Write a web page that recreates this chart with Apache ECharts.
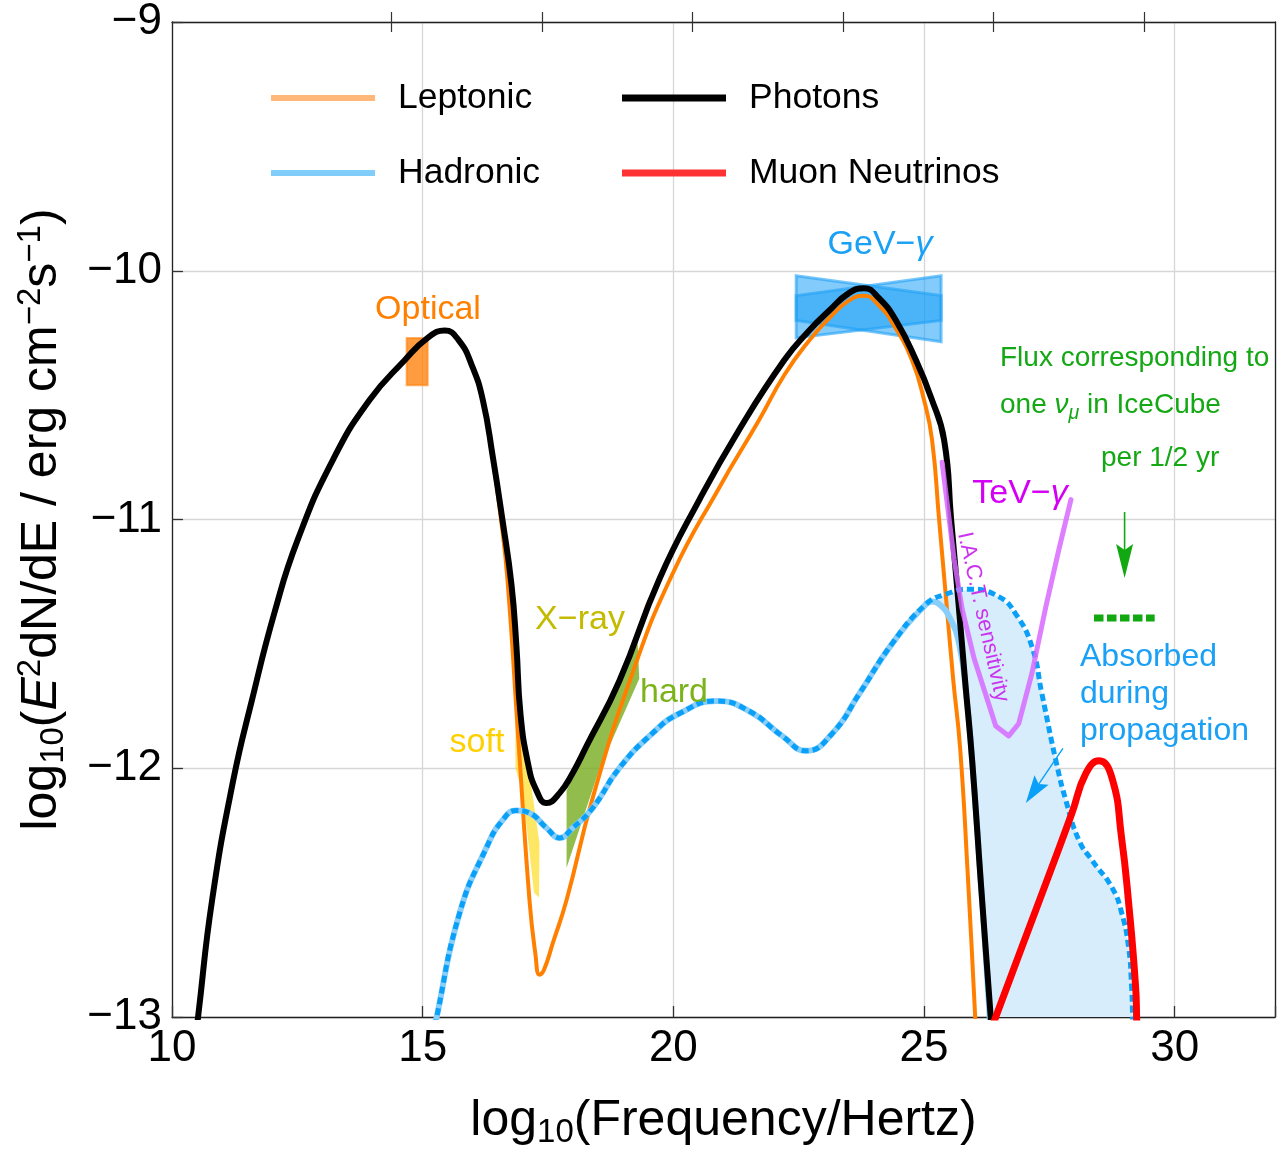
<!DOCTYPE html>
<html><head><meta charset="utf-8">
<script src="https://cdn.jsdelivr.net/npm/echarts@6/dist/echarts.min.js"></script>
<style>html,body{margin:0;padding:0;background:#fff}#c{width:1280px;height:1152px}</style>
</head><body><div id="c"></div>
<script>
// ---------------- data (log10 frequency [Hz], log10 E^2 dN/dE [erg cm^-2 s^-1]) ----------------
const xTicks = [10, 15, 20, 25, 30];
const yTicks = [-13, -12, -11, -10, -9];
const topTickValues = [14.383, 17.383, 20.383, 23.383, 26.383, 29.383];

const photons = [[10.46,-13.1],[10.52,-13.0],[10.8,-12.53],[11.22,-12.05],[11.59,-11.73],[12.05,-11.37],[12.51,-11.08],[13.21,-10.76],[13.94,-10.52],[14.64,-10.36],[15.1,-10.27],[15.44,-10.24],[15.72,-10.28],[15.98,-10.38],[16.2,-10.52],[16.4,-10.75],[16.59,-11.0],[16.77,-11.26],[16.87,-11.51],[16.95,-11.78],[17.1,-11.98],[17.27,-12.09],[17.47,-12.14],[17.73,-12.1],[17.99,-12.02],[18.27,-11.91],[18.92,-11.65],[19.72,-11.24],[20.52,-10.92],[21.31,-10.64],[22.21,-10.36],[22.71,-10.24],[23.11,-10.16],[23.5,-10.09],[23.8,-10.07],[24.1,-10.11],[24.44,-10.2],[24.84,-10.36],[25.14,-10.51],[25.4,-10.68],[25.54,-11.0],[25.68,-11.32],[25.82,-11.65],[25.96,-11.97],[26.14,-12.48],[26.33,-13.0],[26.37,-13.11]];

const leptonic = [[10.46,-13.1],[10.52,-13.0],[10.8,-12.53],[11.22,-12.05],[11.59,-11.73],[12.05,-11.37],[12.51,-11.08],[13.21,-10.76],[13.94,-10.52],[14.64,-10.36],[15.1,-10.27],[15.44,-10.24],[15.72,-10.28],[15.98,-10.38],[16.2,-10.52],[16.4,-10.76],[16.55,-10.98],[16.69,-11.24],[16.91,-11.89],[17.13,-12.53],[17.25,-12.75],[17.33,-12.83],[17.42,-12.81],[17.6,-12.7],[17.87,-12.53],[18.39,-12.12],[19.18,-11.62],[19.98,-11.22],[20.92,-10.87],[21.71,-10.6],[22.21,-10.42],[22.71,-10.28],[23.11,-10.19],[23.5,-10.12],[23.8,-10.1],[24.1,-10.14],[24.4,-10.22],[24.76,-10.36],[25.0,-10.52],[25.16,-10.68],[25.3,-11.0],[25.44,-11.32],[25.58,-11.64],[25.72,-11.92],[25.87,-12.42],[26.02,-13.0],[26.05,-13.12]];

const hadronicUnabsorbed = [[15.22,-13.08],[15.28,-13.0],[15.74,-12.58],[16.27,-12.32],[16.59,-12.21],[16.87,-12.17],[17.13,-12.18],[17.47,-12.24],[17.73,-12.28],[17.99,-12.24],[18.39,-12.16],[18.92,-12.0],[19.58,-11.86],[20.12,-11.78],[20.86,-11.73],[21.51,-11.77],[22.17,-11.87],[22.65,-11.93],[23.17,-11.86],[23.71,-11.7],[24.36,-11.5],[25.04,-11.34],[25.44,-11.3],[25.9,-11.28],[26.49,-11.31],[26.83,-11.38],[27.15,-11.51],[27.35,-11.7],[27.63,-11.97],[27.83,-12.13],[28.09,-12.29],[28.35,-12.37],[28.75,-12.48],[28.94,-12.58],[29.08,-12.72],[29.14,-12.88],[29.16,-13.0],[29.17,-13.1]];

const hadronicAbsorbed = [[15.22,-13.08],[15.28,-13.0],[15.74,-12.58],[16.27,-12.32],[16.59,-12.21],[16.87,-12.17],[17.13,-12.18],[17.47,-12.24],[17.73,-12.28],[17.99,-12.24],[18.39,-12.16],[18.92,-12.0],[19.58,-11.86],[20.12,-11.78],[20.86,-11.73],[21.51,-11.77],[22.17,-11.87],[22.65,-11.93],[23.17,-11.86],[23.71,-11.7],[24.36,-11.5],[25.04,-11.34],[25.16,-11.33],[25.3,-11.34],[25.5,-11.39],[25.7,-11.5],[25.84,-11.7],[25.96,-11.97],[26.14,-12.48],[26.31,-13.0],[26.33,-13.1]];

const muonNeutrinos = [[26.25,-13.1],[26.43,-13.0],[26.95,-12.72],[27.49,-12.43],[27.95,-12.18],[28.23,-12.02],[28.49,-11.97],[28.75,-12.04],[28.94,-12.28],[29.08,-12.54],[29.22,-12.88],[29.24,-13.0],[29.25,-13.1]];

const tevSensitivity = [[25.36,-10.77],[25.6,-11.16],[25.76,-11.36],[26.0,-11.56],[26.24,-11.71],[26.43,-11.83],[26.69,-11.87],[26.89,-11.82],[27.15,-11.62],[27.43,-11.35],[27.69,-11.12],[27.93,-10.92]];

const gevBandA = [[22.45,-10.02],[25.34,-10.10],[25.34,-10.20],[22.45,-10.27]];
const gevBandB = [[22.45,-10.10],[25.34,-10.02],[25.34,-10.285],[22.45,-10.20]];
const opticalBox = [[14.68,-10.27],[15.1,-10.27],[15.1,-10.46],[14.68,-10.46]];
const softXray = [[16.85,-11.73],[16.93,-11.73],[17.15,-12.05],[17.33,-12.3],[17.32,-12.52],[17.22,-12.5],[17.0,-12.1],[16.85,-12.0]];
const hardXray = [[17.87,-12.09],[18.53,-11.8],[19.28,-11.46],[19.32,-11.64],[18.53,-12.0],[17.87,-12.4]];
const fluxLimit = [[28.39,-11.396],[29.6,-11.396]];
const fluxArrow = [[29.0,-10.97],[29.0,-11.235]];
const absorbedArrow = [[27.77,-11.92],[27.03,-12.14]];

// ---------------- chart ----------------
const FONT = 'Liberation Sans, Arial, Helvetica, sans-serif';
const chart = echarts.init(document.getElementById('c'), null, {renderer: 'canvas'});

function polySeries(name, pts, style, z) {
  return {
    type: 'custom', name: name, coordinateSystem: 'cartesian2d', clip: true, z: z, silent: true,
    data: [pts[0]],
    renderItem: function (params, api) {
      return {type: 'polygon', shape: {points: pts.map(p => api.coord(p))}, style: style};
    }
  };
}
function arrowSeries(name, pts, color, lw, headLen, headW, z) {
  return {
    type: 'custom', name: name, coordinateSystem: 'cartesian2d', clip: false, z: z, silent: true,
    data: [pts[0]],
    renderItem: function (params, api) {
      const a = api.coord(pts[0]), b = api.coord(pts[1]);
      const dx = b[0] - a[0], dy = b[1] - a[1], L = Math.hypot(dx, dy);
      const ux = dx / L, uy = dy / L, px = -uy, py = ux;
      const bx = b[0] - ux * headLen, by = b[1] - uy * headLen;
      const nx = b[0] - ux * headLen * 0.82, ny = b[1] - uy * headLen * 0.82;
      return {type: 'group', children: [
        {type: 'line', shape: {x1: a[0], y1: a[1], x2: nx, y2: ny}, style: {stroke: color, lineWidth: lw}},
        {type: 'polygon', shape: {points: [[b[0], b[1]], [bx + px * headW / 2, by + py * headW / 2], [nx, ny], [bx - px * headW / 2, by - py * headW / 2]]}, style: {fill: color}}
      ]};
    }
  };
}
function lineSeries(name, data, color, width, z, extra) {
  return Object.assign({
    type: 'line', name: name, data: data, showSymbol: false, symbol: 'none', clip: true, z: z,
    smooth: 0.5, silent: true, animation: false,
    lineStyle: {color: color, width: width, cap: 'round', join: 'round'},
    itemStyle: {color: color}
  }, extra || {});
}

// absorbed region polygon: unabsorbed curve forward + absorbed curve backward (from divergence)
const fillPoly = hadronicUnabsorbed.filter(p => p[0] >= 25.04).concat(hadronicAbsorbed.filter(p => p[0] >= 25.04).slice().reverse());

function txt(text, x, y, size, color, align, extra) {
  return Object.assign({
    type: 'text', x: x, y: y, silent: true, z: 100,
    style: {text: text, fontSize: size, fontFamily: FONT, fill: color, align: align, verticalAlign: 'middle', textAlign: align, textVerticalAlign: 'middle'}
  }, extra || {});
}
function richTxt(text, x, y, size, color, align) {
  return {
    type: 'text', x: x, y: y, silent: true, z: 100,
    style: {text: text, fontSize: size, fontFamily: FONT, fill: color, align: align, verticalAlign: 'middle', textAlign: align, textVerticalAlign: 'middle',
      rich: {
        a: {fontSize: size, fontFamily: FONT, fill: color, color: color, lineHeight: size * 1.3},
        i: {fontSize: size, fontFamily: FONT, fontStyle: 'italic', fill: color, color: color, lineHeight: size * 1.3},
        s: {fontSize: size * 0.7, fontFamily: FONT, fontStyle: 'italic', fill: color, color: color, verticalAlign: 'bottom', lineHeight: size * 0.85}
      }}
  };
}

const legendText = {fontSize: 35.5, fontFamily: FONT, color: '#000', lineHeight: 40, padding: [0, 0, 0, 18]};

const option = {
  animation: false,
  backgroundColor: '#fff',
  textStyle: {fontFamily: FONT},
  grid: {left: 172, right: 5, top: 22, bottom: 135, containLabel: false, outerBoundsMode: 'none'},
  legend: [
    {data: [{name: 'Leptonic', itemStyle: {color: '#ffb87a'}}, {name: 'Hadronic', itemStyle: {color: '#80cdfa'}}],
     orient: 'vertical', left: 271, top: 78, icon: 'rect', itemWidth: 104, itemHeight: 6, itemGap: 35,
     selectedMode: false, textStyle: legendText, padding: 0},
    {data: [{name: 'Photons', itemStyle: {color: '#000'}}, {name: 'Muon Neutrinos', itemStyle: {color: '#ff3333'}}],
     orient: 'vertical', left: 622, top: 78, icon: 'rect', itemWidth: 104, itemHeight: 7, itemGap: 35,
     selectedMode: false, textStyle: legendText, padding: 0}
  ],
  xAxis: [
    {type: 'value', min: 10, max: 32, interval: 5, position: 'bottom',
     name: '{a|log}{s|10}{a|(Frequency/Hertz)}', nameLocation: 'middle', nameGap: 76,
     nameTextStyle: {rich: {
       a: {fontSize: 50, fontFamily: FONT, color: '#000', lineHeight: 56},
       s: {fontSize: 33, fontFamily: FONT, color: '#000', lineHeight: 34, verticalAlign: 'bottom'}}},
     axisLine: {show: true, onZero: false, lineStyle: {color: '#222', width: 1.3}},
     axisTick: {show: true, inside: true, length: 11, lineStyle: {color: '#333', width: 1.3}},
     axisLabel: {show: true, fontSize: 44, fontFamily: FONT, color: '#000', margin: 10,
       customValues: xTicks},
     splitLine: {show: true, lineStyle: {color: '#d6d6d6', width: 1.3}}},
    {type: 'value', min: 10, max: 32, position: 'top',
     axisLine: {show: true, onZero: false, lineStyle: {color: '#222', width: 1.3}},
     axisTick: {show: true, inside: true, length: 10, customValues: topTickValues, lineStyle: {color: '#333', width: 1.2}},
     axisLabel: {show: false}, splitLine: {show: false}},
    {type: 'value', min: 10, max: 32, position: 'top',
     axisLine: {show: false},
     axisTick: {show: true, inside: false, length: 10, customValues: topTickValues, lineStyle: {color: '#333', width: 1.2}},
     axisLabel: {show: false}, splitLine: {show: false}}
  ],
  yAxis: [
    {type: 'value', min: -13, max: -9, interval: 1, position: 'left',
     name: '{a|log}{s|10}{a|(}{i|E}{p|2}{a|dN/dE / erg cm}{p|−2}{a|s}{p|−1}{a|)}',
     nameLocation: 'middle', nameGap: 102, nameRotate: 90,
     nameTextStyle: {rich: {
       a: {fontSize: 50, fontFamily: FONT, color: '#000', lineHeight: 56},
       i: {fontSize: 50, fontFamily: FONT, fontStyle: 'italic', color: '#000', lineHeight: 56},
       s: {fontSize: 33, fontFamily: FONT, color: '#000', lineHeight: 34, verticalAlign: 'bottom'},
       p: {fontSize: 33, fontFamily: FONT, color: '#000', lineHeight: 34, verticalAlign: 'top'}}},
     axisLine: {show: true, onZero: false, lineStyle: {color: '#222', width: 1.3}},
     axisTick: {show: true, inside: true, length: 11, lineStyle: {color: '#333', width: 1.3}},
     axisLabel: {show: true, fontSize: 44, fontFamily: FONT, color: '#000', margin: 10,
       customValues: yTicks,
       formatter: v => (v < 0 ? '\u2212' : '') + Math.abs(v)},
     splitLine: {show: true, lineStyle: {color: '#d6d6d6', width: 1.3}}},
    {type: 'value', min: -13, max: -9, position: 'right',
     axisLine: {show: true, onZero: false, lineStyle: {color: '#222', width: 1.3}},
     axisTick: {show: false}, axisLabel: {show: false}, splitLine: {show: false}}
  ],
  series: [
    polySeries('absorbed region', fillPoly, {fill: '#d7edfc'}, 1),
    polySeries('GeV band A', gevBandA, {fill: 'rgba(30,160,245,0.55)', stroke: 'rgba(30,160,245,0.6)', lineWidth: 3}, 2),
    polySeries('GeV band B', gevBandB, {fill: 'rgba(30,160,245,0.55)', stroke: 'rgba(30,160,245,0.6)', lineWidth: 3}, 2),
    polySeries('Optical', opticalBox, {fill: 'rgba(255,128,10,0.78)', stroke: 'rgba(255,128,10,0.6)', lineWidth: 2}, 2),
    polySeries('soft X-ray', softXray, {fill: 'rgba(255,215,0,0.6)'}, 2),
    polySeries('hard X-ray', hardXray, {fill: 'rgba(115,170,25,0.78)'}, 2),
    lineSeries('Leptonic', leptonic, '#ff8000', 4, 3),
    lineSeries('Hadronic', hadronicAbsorbed, '#87cefa', 6, 4),
    lineSeries('Photons', photons, '#000000', 6, 5),
    lineSeries('Hadronic (unabsorbed)', hadronicUnabsorbed, '#0aa0f7', 5, 6,
      {lineStyle: {color: '#0aa0f7', width: 5, type: [7, 4], cap: 'butt'}}),
    lineSeries('TeV sensitivity', tevSensitivity, 'rgba(215,105,255,0.85)', 5, 6, {smooth: false}),
    lineSeries('Muon Neutrinos', muonNeutrinos, '#ff0000', 7, 7),
    lineSeries('flux limit', fluxLimit, '#11a811', 7, 7,
      {smooth: false, lineStyle: {color: '#11a811', width: 7, type: [9.5, 3.5], cap: 'butt'}}),
    arrowSeries('flux arrow', fluxArrow, '#11a811', 1.6, 34, 17, 8),
    arrowSeries('absorbed arrow', absorbedArrow, '#0aa0f7', 1.4, 28, 17, 8)
  ],
  graphic: [
    txt('Optical', 428, 310, 34, '#ff7f00', 'center'),
    richTxt('{a|GeV\u2212}{i|\u03b3}', 880, 245, 34, '#1aa0f5', 'center'),
    txt('X\u2212ray', 580, 620, 34, '#c4bb00', 'center'),
    txt('soft', 477, 743, 34, '#ffd000', 'center'),
    txt('hard', 674, 693, 34, '#7cb31b', 'center'),
    richTxt('{a|TeV\u2212}{i|\u03b3}', 1020, 494, 34, '#d400f5', 'center'),
    txt('I.A.C.T. sensitivity', 983, 617, 22, '#cc33ee', 'center', {rotation: -1.349}),
    txt('Flux corresponding to', 1000, 358, 28, '#14a814', 'left'),
    richTxt('{a|one }{i|\u03bd}{s|\u03bc}{a| in IceCube}', 1000, 405, 28, '#14a814', 'left'),
    txt('per 1/2 yr', 1101, 458, 28, '#14a814', 'left'),
    {type: 'text', x: 1080, y: 694, silent: true, z: 100,
     style: {text: 'Absorbed\nduring\npropagation', fontSize: 32, fontFamily: FONT, fill: '#1aa0f5', lineHeight: 37,
       align: 'left', verticalAlign: 'middle', textAlign: 'left', textVerticalAlign: 'middle'}}
  ]
};
chart.setOption(option);
</script>
</body></html>
